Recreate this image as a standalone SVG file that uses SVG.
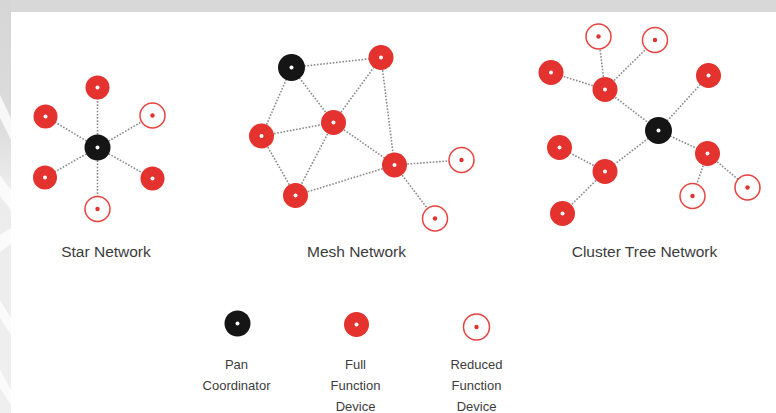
<svg xmlns="http://www.w3.org/2000/svg" width="776" height="413" viewBox="0 0 776 413">
  <defs>
    <linearGradient id="strip" x1="0" y1="0" x2="0" y2="1">
      <stop offset="0" stop-color="#d6d6d6"/>
      <stop offset="0.3" stop-color="#dcdcdc"/>
      <stop offset="0.45" stop-color="#ececec"/>
      <stop offset="1" stop-color="#efefef"/>
    </linearGradient>
  </defs>
  <style>
    .link { stroke: #8a8a8a; stroke-width: 1.6; stroke-dasharray: 1.6 1.6; fill: none; }
    .ffd { fill: #e4322e; }
    .pan { fill: #151515; }
    .dot { fill: #ffffff; }
    .rfd { fill: #ffffff; stroke: #e8423e; stroke-width: 1.5; }
    .rdot { fill: #e4322e; }
    .title { font-family: "Liberation Sans", Arial, sans-serif; font-size: 15.5px; fill: #3c3c3c; text-anchor: middle; }
    .legend { font-family: "Liberation Sans", Arial, sans-serif; font-size: 13px; fill: #3c3c3c; text-anchor: middle; }
  </style>
  <!-- background -->
  <rect x="0" y="0" width="776" height="413" fill="#ffffff"/>
  <rect x="0" y="0" width="776" height="12" fill="#d8d8d8"/>
  <rect x="0" y="0" width="11" height="413" fill="url(#strip)"/>
  <g fill="#ffffff" opacity="0.8">
    <polygon points="0,95 11,118 11,140 0,118"/>
    <polygon points="0,175 11,190 11,210 0,196"/>
    <polygon points="0,235 11,228 11,244 0,252"/>
    <polygon points="0,300 11,318 11,335 0,318"/>
    <polygon points="0,370 11,390 11,405 0,388"/>
  </g>

  <!-- connectors -->
  <g id="connectors">
    <!-- star -->
    <line class="link" x1="97.5" y1="147.5" x2="97.5" y2="87.5"/>
    <line class="link" x1="97.5" y1="147.5" x2="45.5" y2="116.5"/>
    <line class="link" x1="97.5" y1="147.5" x2="152.5" y2="115.5"/>
    <line class="link" x1="97.5" y1="147.5" x2="45" y2="177.5"/>
    <line class="link" x1="97.5" y1="147.5" x2="152.5" y2="178.5"/>
    <line class="link" x1="97.5" y1="147.5" x2="97.5" y2="209"/>
    <!-- mesh -->
    <line class="link" x1="291.5" y1="67.5" x2="381" y2="57.5"/>
    <line class="link" x1="291.5" y1="67.5" x2="333.5" y2="122.5"/>
    <line class="link" x1="291.5" y1="67.5" x2="261.5" y2="136"/>
    <line class="link" x1="261.5" y1="136" x2="333.5" y2="122.5"/>
    <line class="link" x1="261.5" y1="136" x2="295.5" y2="195.5"/>
    <line class="link" x1="333.5" y1="122.5" x2="381" y2="57.5"/>
    <line class="link" x1="333.5" y1="122.5" x2="295.5" y2="195.5"/>
    <line class="link" x1="333.5" y1="122.5" x2="394.5" y2="165"/>
    <line class="link" x1="381" y1="57.5" x2="394.5" y2="165"/>
    <line class="link" x1="295.5" y1="195.5" x2="394.5" y2="165"/>
    <line class="link" x1="394.5" y1="165" x2="461.5" y2="160"/>
    <line class="link" x1="394.5" y1="165" x2="435" y2="218.5"/>
    <!-- cluster tree -->
    <line class="link" x1="605" y1="89.5" x2="551" y2="72.5"/>
    <line class="link" x1="605" y1="89.5" x2="598.5" y2="36.5"/>
    <line class="link" x1="605" y1="89.5" x2="655" y2="40"/>
    <line class="link" x1="605" y1="89.5" x2="658.5" y2="130.5"/>
    <line class="link" x1="658.5" y1="130.5" x2="708.5" y2="75.5"/>
    <line class="link" x1="658.5" y1="130.5" x2="605" y2="171.5"/>
    <line class="link" x1="605" y1="171.5" x2="559.5" y2="147.5"/>
    <line class="link" x1="605" y1="171.5" x2="562.5" y2="213.5"/>
    <line class="link" x1="658.5" y1="130.5" x2="707.5" y2="153.5"/>
    <line class="link" x1="707.5" y1="153.5" x2="692.5" y2="196"/>
    <line class="link" x1="707.5" y1="153.5" x2="747.5" y2="187.5"/>
  </g>

  <!-- Star network -->
  <g id="star-pan"><circle class="pan" cx="97.5" cy="147.5" r="13"/><circle class="dot" cx="97.5" cy="147.5" r="2"/></g>
  <g id="star-ffd-top"><circle class="ffd" cx="97.5" cy="87.5" r="12"/><circle class="dot" cx="97.5" cy="87.5" r="2"/></g>
  <g id="star-ffd-ul"><circle class="ffd" cx="45.5" cy="116.5" r="12"/><circle class="dot" cx="45.5" cy="116.5" r="2"/></g>
  <g id="star-rfd-ur"><circle class="rfd" cx="152.5" cy="115.5" r="12.5"/><circle class="rdot" cx="152.5" cy="115.5" r="2.2"/></g>
  <g id="star-ffd-ll"><circle class="ffd" cx="45" cy="177.5" r="12"/><circle class="dot" cx="45" cy="177.5" r="2"/></g>
  <g id="star-ffd-lr"><circle class="ffd" cx="152.5" cy="178.5" r="12"/><circle class="dot" cx="152.5" cy="178.5" r="2"/></g>
  <g id="star-rfd-bottom"><circle class="rfd" cx="97.5" cy="209" r="12.5"/><circle class="rdot" cx="97.5" cy="209" r="2.2"/></g>
  <text class="title" x="106" y="257">Star Network</text>

  <!-- Mesh network -->
  <g id="mesh-pan"><circle class="pan" cx="291.5" cy="67.5" r="13.5"/><circle class="dot" cx="291.5" cy="67.5" r="2"/></g>
  <g id="mesh-ffd-top"><circle class="ffd" cx="381" cy="57.5" r="12.5"/><circle class="dot" cx="381" cy="57.5" r="2"/></g>
  <g id="mesh-ffd-center"><circle class="ffd" cx="333.5" cy="122.5" r="12.5"/><circle class="dot" cx="333.5" cy="122.5" r="2"/></g>
  <g id="mesh-ffd-left"><circle class="ffd" cx="261.5" cy="136" r="12.5"/><circle class="dot" cx="261.5" cy="136" r="2"/></g>
  <g id="mesh-ffd-right"><circle class="ffd" cx="394.5" cy="165" r="12.5"/><circle class="dot" cx="394.5" cy="165" r="2"/></g>
  <g id="mesh-ffd-bottom"><circle class="ffd" cx="295.5" cy="195.5" r="12.5"/><circle class="dot" cx="295.5" cy="195.5" r="2"/></g>
  <g id="mesh-rfd-right"><circle class="rfd" cx="461.5" cy="160" r="12.5"/><circle class="rdot" cx="461.5" cy="160" r="2.2"/></g>
  <g id="mesh-rfd-bottom"><circle class="rfd" cx="435" cy="218.5" r="12.5"/><circle class="rdot" cx="435" cy="218.5" r="2.2"/></g>
  <text class="title" x="356.5" y="257">Mesh Network</text>

  <!-- Cluster tree network -->
  <g id="tree-pan"><circle class="pan" cx="658.5" cy="130.5" r="13.5"/><circle class="dot" cx="658.5" cy="130.5" r="2"/></g>
  <g id="tree-ffd-hub1"><circle class="ffd" cx="605" cy="89.5" r="12.5"/><circle class="dot" cx="605" cy="89.5" r="2"/></g>
  <g id="tree-ffd-lefttop"><circle class="ffd" cx="551" cy="72.5" r="12.5"/><circle class="dot" cx="551" cy="72.5" r="2"/></g>
  <g id="tree-rfd-tl"><circle class="rfd" cx="598.5" cy="36.5" r="12.5"/><circle class="rdot" cx="598.5" cy="36.5" r="2.2"/></g>
  <g id="tree-rfd-tr"><circle class="rfd" cx="655" cy="40" r="12.5"/><circle class="rdot" cx="655" cy="40" r="2.2"/></g>
  <g id="tree-ffd-topright"><circle class="ffd" cx="708.5" cy="75.5" r="12.5"/><circle class="dot" cx="708.5" cy="75.5" r="2"/></g>
  <g id="tree-ffd-hub2"><circle class="ffd" cx="605" cy="171.5" r="12.5"/><circle class="dot" cx="605" cy="171.5" r="2"/></g>
  <g id="tree-ffd-leftmid"><circle class="ffd" cx="559.5" cy="147.5" r="12.5"/><circle class="dot" cx="559.5" cy="147.5" r="2"/></g>
  <g id="tree-ffd-bottomleft"><circle class="ffd" cx="562.5" cy="213.5" r="12.5"/><circle class="dot" cx="562.5" cy="213.5" r="2"/></g>
  <g id="tree-ffd-hub3"><circle class="ffd" cx="707.5" cy="153.5" r="12.5"/><circle class="dot" cx="707.5" cy="153.5" r="2"/></g>
  <g id="tree-rfd-bottom"><circle class="rfd" cx="692.5" cy="196" r="12.5"/><circle class="rdot" cx="692.5" cy="196" r="2.2"/></g>
  <g id="tree-rfd-right"><circle class="rfd" cx="747.5" cy="187.5" r="12.5"/><circle class="rdot" cx="747.5" cy="187.5" r="2.2"/></g>
  <text class="title" x="644.5" y="257">Cluster Tree Network</text>

  <!-- Legend -->
  <g id="legend-pan">
    <circle class="pan" cx="237.5" cy="323.5" r="13"/><circle class="dot" cx="237.5" cy="323.5" r="2"/>
    <text class="legend" x="236.5" y="369">Pan</text>
    <text class="legend" x="236.5" y="390">Coordinator</text>
  </g>
  <g id="legend-ffd">
    <circle class="ffd" cx="356.5" cy="324.5" r="12.5"/><circle class="dot" cx="356.5" cy="324.5" r="2"/>
    <text class="legend" x="355.5" y="369">Full</text>
    <text class="legend" x="355.5" y="390">Function</text>
    <text class="legend" x="355.5" y="411">Device</text>
  </g>
  <g id="legend-rfd">
    <circle class="rfd" cx="476.5" cy="327" r="13"/><circle class="rdot" cx="476.5" cy="327" r="2.2"/>
    <text class="legend" x="476.5" y="369">Reduced</text>
    <text class="legend" x="476.5" y="390">Function</text>
    <text class="legend" x="476.5" y="411">Device</text>
  </g>
</svg>
